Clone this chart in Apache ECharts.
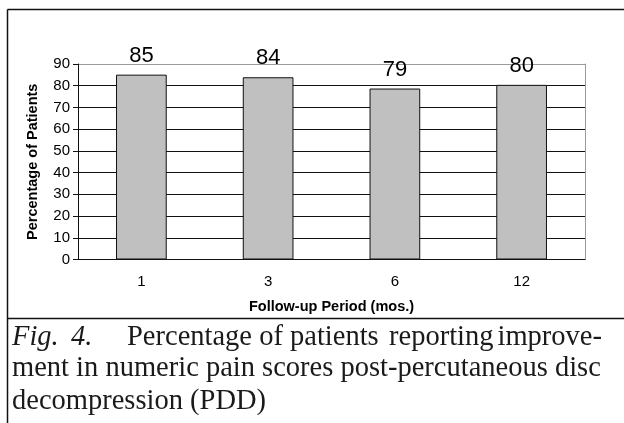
<!DOCTYPE html>
<html>
<head>
<meta charset="utf-8">
<script src="https://cdn.jsdelivr.net/npm/echarts@6/dist/echarts.min.js"></script>
<style>
  html, body { margin: 0; padding: 0; background: #fff; }
  #chartBox { width: 624px; height: 423px; }
</style>
</head>
<body>
<div id="chartBox"></div>
<script>
// follow-up periods (months) and share of patients improved
const periods = ['1', '3', '6', '12']
const improved = [85.1, 83.9, 78.7, 80.4]
const yTicks = [0, 10, 20, 30, 40, 50, 60, 70, 80, 90]

const SANS = 'Liberation Sans, Arial, sans-serif'
const SERIF = 'Liberation Serif, Times New Roman, serif'
const CAP = 28.5

// gridlines are black, only the top one (plot border) is grey
const gridColors = yTicks.map((t, i) => (i === yTicks.length - 1 ? '#9a9a9a' : '#111'))

const captionText = (x, y, text, extra) => ({
  type: 'text',
  x: x,
  y: y,
  style: Object.assign({
    text: text,
    font: CAP + 'px ' + SERIF,
    fill: '#1a1a1a',
    verticalAlign: 'middle'
  }, extra || {})
})

const option = {
  animation: false,
  backgroundColor: '#fff',
  grid: { left: 78, right: 39, top: 64, bottom: 163.5 },
  xAxis: {
    type: 'category',
    data: periods,
    name: 'Follow-up Period (mos.)',
    nameLocation: 'middle',
    nameGap: 40,
    nameTextStyle: { fontFamily: SANS, fontWeight: 'bold', fontSize: 14.5, color: '#000' },
    axisLine: { lineStyle: { color: '#111', width: 1 } },
    axisTick: { length: 5, lineStyle: { color: '#111' } },
    axisLabel: { fontFamily: SANS, fontSize: 15, color: '#000', margin: 15 },
    splitLine: { show: false }
  },
  yAxis: [
    {
      type: 'value',
      min: 0,
      max: 90,
      interval: 10,
      name: 'Percentage of Patients',
      nameLocation: 'middle',
      nameRotate: 90,
      nameGap: 38,
      nameTextStyle: { fontFamily: SANS, fontWeight: 'bold', fontSize: 14.5, color: '#000' },
      axisLine: { show: true, lineStyle: { color: '#111', width: 1 } },
      axisTick: { show: true, length: 5, lineStyle: { color: '#111' } },
      axisLabel: { fontFamily: SANS, fontSize: 15, color: '#000', margin: 8 },
      splitLine: { show: true, lineStyle: { color: gridColors, width: 1 } }
    },
    {
      type: 'value',
      min: 0,
      max: 90,
      interval: 10,
      position: 'right',
      axisLine: { show: true, lineStyle: { color: '#9a9a9a', width: 1 } },
      axisTick: { show: false },
      axisLabel: { show: false },
      splitLine: { show: false }
    }
  ],
  series: [
    {
      type: 'bar',
      data: improved,
      barWidth: '40%',
      itemStyle: { color: '#c0c0c0', borderColor: '#111', borderWidth: 1 },
      label: {
        show: true,
        position: 'top',
        distance: 8,
        fontFamily: SANS,
        fontSize: 22,
        color: '#000',
        formatter: p => Math.round(p.value)
      }
    }
  ],
  graphic: [
    // frame round the chart
    { type: 'line', shape: { x1: 7.5, y1: 9.5, x2: 624, y2: 9.5 }, style: { stroke: '#111', lineWidth: 1.5 } },
    { type: 'line', shape: { x1: 7.5, y1: 9.5, x2: 7.5, y2: 423 }, style: { stroke: '#111', lineWidth: 1.5 } },
    { type: 'line', shape: { x1: 7.5, y1: 318.5, x2: 624, y2: 318.5 }, style: { stroke: '#111', lineWidth: 1.5 } },
    // caption (justified first line)
    captionText(12, 338, 'Fig.', { font: 'italic ' + CAP + 'px ' + SERIF }),
    captionText(71, 338, '4.', { font: 'italic ' + CAP + 'px ' + SERIF }),
    captionText(127, 338, 'Percentage of patients'),
    captionText(389, 338, 'reporting'),
    captionText(602, 338, 'improve-', { align: 'right' }),
    captionText(12, 369, 'ment in numeric pain scores post-percutaneous disc'),
    captionText(12, 401.5, 'decompression (PDD)')
  ]
}

const chart = echarts.init(document.getElementById('chartBox'), null, { renderer: 'canvas' })
chart.setOption(option)
</script>
</body>
</html>
